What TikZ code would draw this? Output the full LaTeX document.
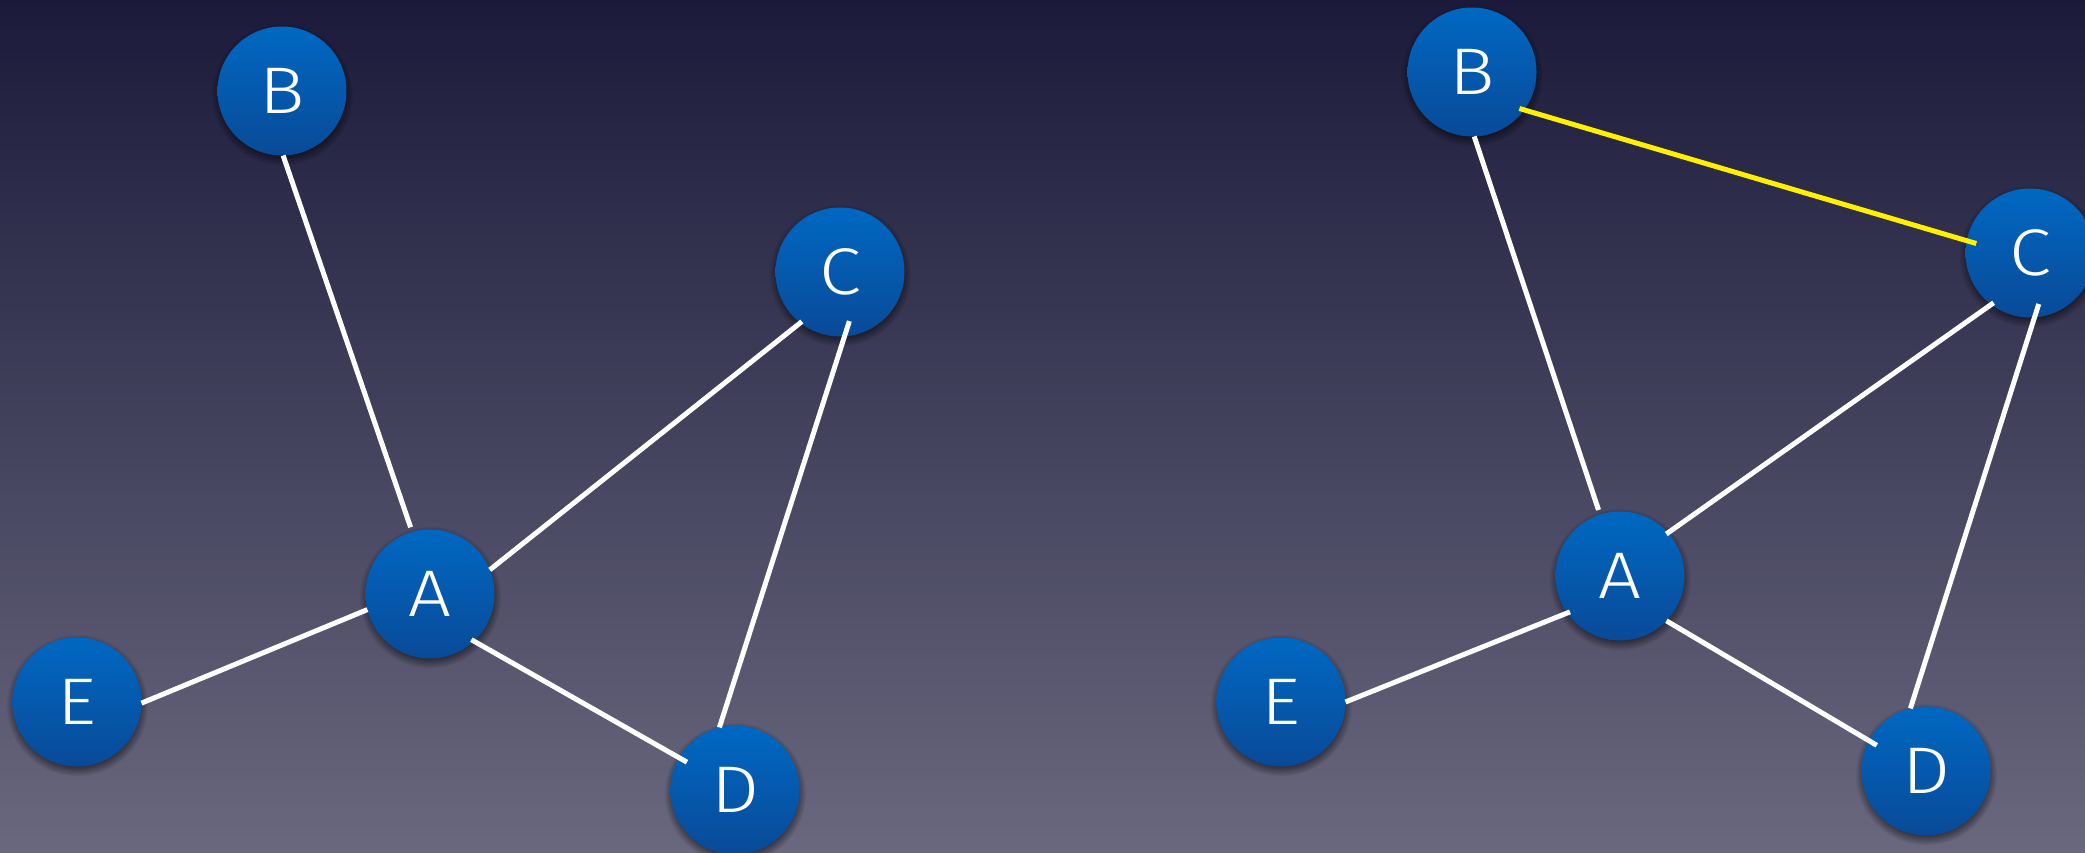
\documentclass[tikz,border=0pt]{standalone}
\usepackage{fontspec}
\setmainfont[FakeStretch=1.15]{Fira Sans Light}
\usetikzlibrary{shadows}
\definecolor{bgtop}{RGB}{27,26,58}
\definecolor{bgbot}{RGB}{106,104,126}
\definecolor{ntop}{RGB}{0,104,194}
\definecolor{nbot}{RGB}{9,74,152}
\definecolor{hl}{RGB}{255,240,0}
\begin{document}
\begin{tikzpicture}[x=1pt,y=-1pt,
  vertex/.style={circle, minimum size=129pt, inner sep=0pt, outer sep=0pt,
    top color=ntop, bottom color=nbot, text=white,
    font=\fontsize{66}{66}\selectfont,
    circular drop shadow={fill=black, shadow xshift=0pt, shadow yshift=-3pt, shadow scale=1.1, opacity=0.5}},
  edge/.style={white, line width=5pt},
  hiedge/.style={hl, line width=5pt}]
\useasboundingbox (0,0) rectangle (2085,853);
\clip (0,0) rectangle (2085,853);
\shade[top color=bgtop, bottom color=bgbot] (0,0) rectangle (2085,853);

% left graph
\node[vertex] (B1) at (282,91) {B};
\node[vertex] (C1) at (840,272) {C};
\node[vertex] (A1) at (430,594) {A};
\node[vertex] (E1) at (77,702) {E};
\node[vertex] (D1) at (735,790) {D};

\draw[edge, shorten >=5pt] (B1.-89) -- (A1.106.7);
\draw[edge, shorten >=-2pt] (A1.22.9) -- (C1.232);
\draw[edge, shorten <=-3pt, shorten >=-9pt] (A1.-47.5) -- (D1.150.9);
\draw[edge, shorten <=-16pt] (C1.-86.7) -- (D1.104.3);
\draw[edge] (A1.194.9) -- (E1.-1);

% right graph
\node[vertex] (B2) at (1472,72) {B};
\node[vertex] (C2) at (2030,253) {C};
\node[vertex] (A2) at (1620,576) {A};
\node[vertex] (E2) at (1281,702) {E};
\node[vertex] (D2) at (1926,771) {D};

\draw[edge, shorten >=5pt] (B2.-88.8) -- (A2.108.4);
\draw[hiedge, shorten <=-5pt, shorten >=-10pt] (B2.-36.1) -- (C2.169.1);
\draw[edge, shorten <=-2pt, shorten >=-3pt] (A2.42) -- (C2.233.1);
\draw[edge, shorten <=-14pt] (C2.-86.6) -- (D2.104.2);
\draw[edge, shorten >=-9pt] (A2.-44.3) -- (D2.152);
\draw[edge, shorten <=-3pt] (A2.215.5) -- (E2.0);
\end{tikzpicture}
\end{document}
